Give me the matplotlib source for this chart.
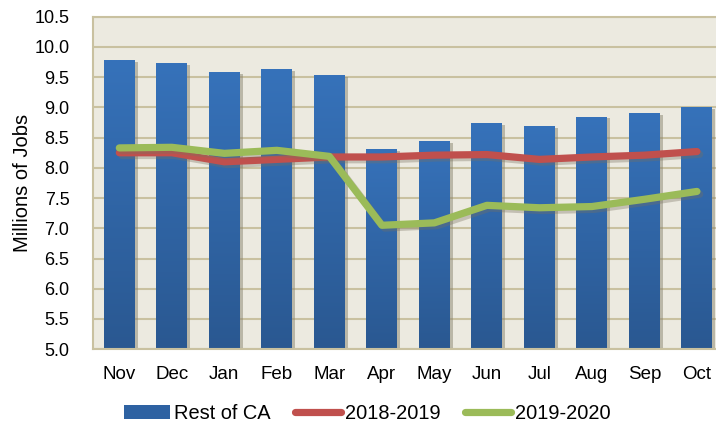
import numpy as np
import matplotlib.pyplot as plt
import matplotlib.patheffects as pe
from matplotlib.lines import Line2D
from matplotlib.patches import Patch
from matplotlib.colors import LinearSegmentedColormap

plt.rcParams['font.family'] = ['Liberation Sans', 'DejaVu Sans']

months = ['Nov', 'Dec', 'Jan', 'Feb', 'Mar', 'Apr', 'May', 'Jun', 'Jul', 'Aug', 'Sep', 'Oct']
rest_of_ca = [9.78, 9.73, 9.58, 9.63, 9.53, 8.31, 8.44, 8.74, 8.69, 8.84, 8.90, 9.00]
y2018_2019 = [8.25, 8.25, 8.10, 8.14, 8.18, 8.18, 8.21, 8.22, 8.14, 8.18, 8.21, 8.27]
y2019_2020 = [8.33, 8.34, 8.24, 8.29, 8.19, 7.05, 7.09, 7.38, 7.34, 7.36, 7.48, 7.61]

bar_color = '#2E62A2'
red = '#C0504D'
green = '#9BBB59'

fig = plt.figure(figsize=(7.16, 4.29), dpi=100)
ax = fig.add_axes([0.130, 0.186, 0.880, 0.775])
ax.set_facecolor('#ECEAE0')

x = np.arange(len(months))
bars = ax.bar(x, np.array(rest_of_ca) - 5.0, bottom=5.0, width=0.59, color=bar_color, zorder=2,
              path_effects=[pe.SimplePatchShadow(offset=(2, -1), shadow_rgbFace='#8a8570', alpha=0.5), pe.Normal()])

# vertical gradient on each bar
grad = np.linspace(0, 1, 256).reshape(-1, 1)
cmap = LinearSegmentedColormap.from_list('bar', ['#2A5891', '#3672BA'])
for b in bars:
    bx, by = b.get_x(), b.get_y()
    im = ax.imshow(grad, cmap=cmap, aspect='auto', origin='lower',
                   extent=[bx, bx + b.get_width(), by, by + b.get_height()], zorder=2.1)
    im.set_clip_path(b)

shadow = [pe.SimpleLineShadow(offset=(2, -2), shadow_color='#777060', alpha=0.35), pe.Normal()]
ax.plot(x, y2018_2019, color=red, lw=5.2, solid_capstyle='round', solid_joinstyle='round', zorder=3, path_effects=shadow)
ax.plot(x, y2019_2020, color=green, lw=5.2, solid_capstyle='round', solid_joinstyle='round', zorder=4, path_effects=shadow)

ax.set_xlim(-0.5, 11.5)
ax.set_ylim(5.0, 10.5)
ax.set_yticks(np.arange(5.0, 10.51, 0.5))
ax.set_yticklabels(['{:.1f}'.format(v) for v in np.arange(5.0, 10.51, 0.5)], fontsize=13)
ax.set_xticks(x)
ax.set_xticklabels(months, fontsize=13.5)
ax.tick_params(axis='both', length=0)
ax.tick_params(axis='y', pad=17)
ax.tick_params(axis='x', pad=12)
ax.yaxis.grid(True, color='#C9C1A0', lw=1.5, zorder=1)
ax.set_axisbelow(True)
for s in ax.spines.values():
    s.set_color('#C9C1A0')
    s.set_linewidth(1.5)
ax.set_ylabel('Millions of Jobs', fontsize=14.5, labelpad=2)

handles = [Patch(facecolor=bar_color, edgecolor='none'),
           Line2D([0], [0], color=red, lw=5.2, solid_capstyle='round'),
           Line2D([0], [0], color=green, lw=5.2, solid_capstyle='round')]
fig.legend(handles, ['Rest of CA', '2018-2019', '2019-2020'], loc='center', bbox_to_anchor=(0.513, 0.037),
           ncol=3, frameon=False, fontsize=14.4, handlelength=2.3, handletextpad=0.2, columnspacing=1.2,
           handleheight=0.7)

fig.savefig('out.png', dpi=100)
